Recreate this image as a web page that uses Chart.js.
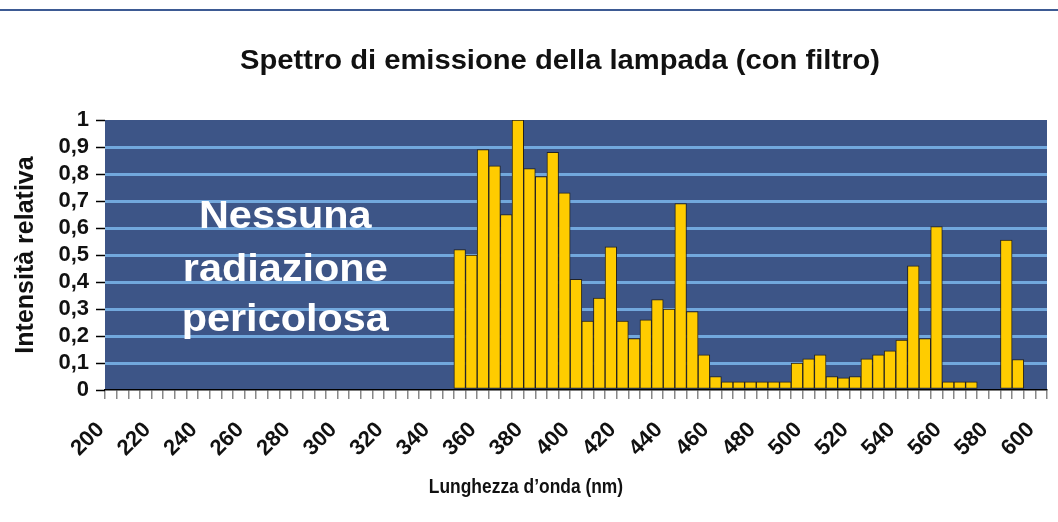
<!DOCTYPE html>
<html>
<head>
<meta charset="utf-8">
<script src="https://cdn.jsdelivr.net/npm/chart.js@4/dist/chart.umd.min.js"></script>
<style>
  html, body { margin: 0; padding: 0; background: #fff; }
</style>
</head>
<body>
<canvas id="grafico" width="1058" height="522"></canvas>
<script>
// asse delle lunghezze d'onda (nm), una categoria ogni 5 nm
const lunghezze = [
    200, 205, 210, 215, 220, 225, 230, 235, 240, 245,
    250, 255, 260, 265, 270, 275, 280, 285, 290, 295,
    300, 305, 310, 315, 320, 325, 330, 335, 340, 345,
    350, 355, 360, 365, 370, 375, 380, 385, 390, 395,
    400, 405, 410, 415, 420, 425, 430, 435, 440, 445,
    450, 455, 460, 465, 470, 475, 480, 485, 490, 495,
    500, 505, 510, 515, 520, 525, 530, 535, 540, 545,
    550, 555, 560, 565, 570, 575, 580, 585, 590, 595,
    600
];

// barre presenti (lampada con filtro)
const lunghezzeBarre = [
    350, 355, 360, 365, 370, 375, 380, 385, 390, 395,
    400, 405, 410, 415, 420, 425, 430, 435, 440, 445,
    450, 455, 460, 465, 470, 475, 480, 485, 490, 495,
    500, 505, 510, 515, 520, 525, 530, 535, 540, 545,
    550, 555, 560, 565, 570, 585, 590
];
const intensita = [
    0.52, 0.50, 0.89, 0.83, 0.65, 1.00, 0.82, 0.79, 0.88, 0.73,
    0.41, 0.255, 0.34, 0.53, 0.255, 0.19, 0.26, 0.335, 0.30, 0.69,
    0.29, 0.13, 0.05, 0.03, 0.03, 0.03, 0.03, 0.03, 0.03, 0.10,
    0.115, 0.13, 0.05, 0.045, 0.05, 0.115, 0.13, 0.145, 0.185, 0.46,
    0.19, 0.605, 0.03, 0.03, 0.03, 0.555, 0.113
];

const titolo = 'Spettro di emissione della lampada (con filtro)';
const titoloX = 'Lunghezza d\u2019onda (nm)';
const titoloY = 'Intensità relativa';
const nota = ['Nessuna', 'radiazione', 'pericolosa'];

const FONT = '"Liberation Sans", Arial, sans-serif';

const valori = lunghezze.map(l => {
    const i = lunghezzeBarre.indexOf(l);
    return i >= 0 ? intensita[i] : null;
});

const sfondo = {
    id: 'sfondo',
    beforeDraw(chart) {
        const c = chart.ctx;
        const a = chart.chartArea;
        c.save();
        c.fillStyle = '#fff';
        c.fillRect(0, 0, chart.width, chart.height);
        c.fillStyle = '#3d5a93';
        c.fillRect(0, 9, chart.width, 2);
        c.fillStyle = '#3d5587';
        c.fillRect(a.left, a.top, a.right - a.left, a.bottom - a.top);
        c.restore();
    }
};

// scrive un testo centrato, allargato o stretto in orizzontale
function scrivi(c, testo, x, y, font, sx) {
    c.save();
    c.translate(x, y);
    c.scale(sx, 1);
    c.font = font;
    c.fillText(testo, 0, 0);
    c.restore();
}

const testi = {
    id: 'testi',
    afterDraw(chart) {
        const c = chart.ctx;
        const a = chart.chartArea;
        const x = chart.scales.x;
        const y = chart.scales.y;
        c.save();
        c.fillStyle = '#111';
        c.textAlign = 'center';
        c.textBaseline = 'alphabetic';
        scrivi(c, titolo, 560, 69, 'bold 27px ' + FONT, 1.08);
        scrivi(c, titoloX, 526, 493, 'bold 20px ' + FONT, 0.87);

        c.save();
        c.translate(33, (a.top + a.bottom) / 2);
        c.rotate(-Math.PI / 2);
        c.font = 'bold 25px ' + FONT;
        c.fillText(titoloY, 0, 0);
        c.restore();

        // scritta dentro l'area del grafico
        c.fillStyle = '#fff';
        const f = 'bold 38px ' + FONT;
        const cx = x.getPixelForValue(15);
        scrivi(c, nota[0], cx, y.getPixelForValue(0.6), f, 1.09);
        scrivi(c, nota[1], cx, y.getPixelForValue(0.405), f, 1.09);
        scrivi(c, nota[2], cx, y.getPixelForValue(0.22), f, 1.09);
        c.restore();
    }
};

new Chart(document.getElementById('grafico'), {
    type: 'bar',
    data: {
        labels: lunghezze,
        datasets: [{
            data: valori,
            backgroundColor: '#ffcc00',
            borderColor: '#222',
            borderWidth: 1,
            borderSkipped: false,
            barPercentage: 1,
            categoryPercentage: 1
        }]
    },
    options: {
        responsive: false,
        animation: false,
        layout: { padding: { top: 120, right: 11, left: 0, bottom: 0 } },
        plugins: {
            legend: { display: false },
            tooltip: { enabled: false },
            title: { display: false }
        },
        scales: {
            x: {
                afterFit: s => {
                    s.height = 132;
                    s.paddingLeft = 0;
                    s.paddingRight = 0;
                },
                grid: {
                    drawOnChartArea: false,
                    offset: true,
                    color: '#888',
                    lineWidth: 1.5,
                    tickLength: 9
                },
                border: { color: '#000', width: 1.5 },
                ticks: {
                    autoSkip: false,
                    maxRotation: 45,
                    minRotation: 45,
                    padding: 18,
                    labelOffset: -10,
                    color: '#111',
                    font: { family: FONT, size: 22, weight: 'bold' },
                    callback: (v, i) => i % 4 === 0 ? lunghezze[i] : ''
                }
            },
            y: {
                min: 0,
                max: 1,
                afterFit: s => {
                    s.width = 105;
                    s.paddingTop = 0;
                    s.paddingBottom = 0;
                },
                grid: {
                    color: c => (c.tick.value === 0 || c.tick.value === 1) ? 'rgba(0,0,0,0)' : '#72a8dd',
                    lineWidth: 3,
                    tickColor: '#000',
                    tickWidth: 1.5,
                    tickLength: 9
                },
                border: { display: false },
                ticks: {
                    stepSize: 0.1,
                    autoSkip: false,
                    padding: 7,
                    color: '#111',
                    font: { family: FONT, size: 22, weight: 'bold' },
                    callback: v => String(Math.round(v * 10) / 10).replace('.', ',')
                }
            }
        }
    },
    plugins: [sfondo, testi]
});
</script>
</body>
</html>
